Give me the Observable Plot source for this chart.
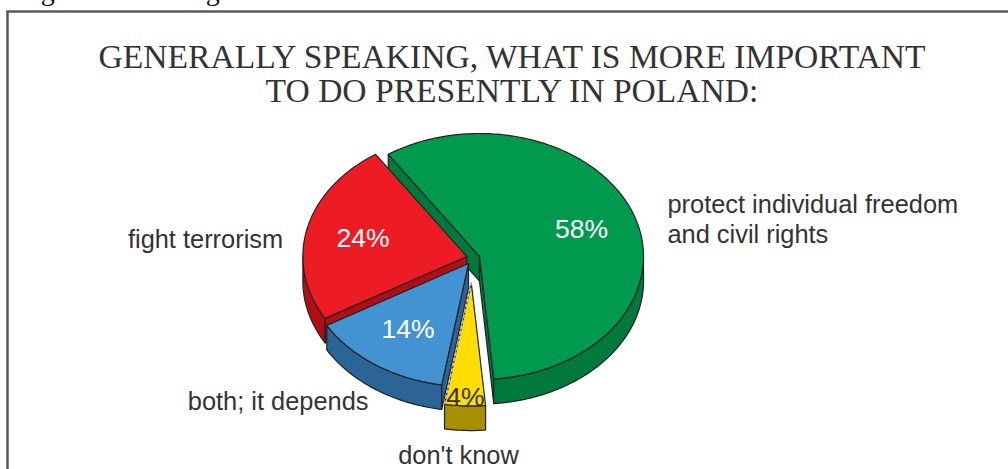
<!DOCTYPE html>
<html>
<head>
<meta charset="utf-8">
<script src="https://cdn.jsdelivr.net/npm/d3@7"></script>
<script src="https://cdn.jsdelivr.net/npm/@observablehq/plot@0.6"></script>
<style>html,body{margin:0;padding:0;background:#fff;overflow:hidden}svg{display:block}</style>
</head>
<body>
<script>
// Survey answers, in percent
const answers = ["protect individual freedom\nand civil rights", "don't know", "both; it depends", "fight terrorism"];
const shares = [58, 4, 14, 24];
const shareLabels = ["58%", "4%", "14%", "24%"];
const captionLine = "Figure 5. Civil rights";
const titleLines = ["GENERALLY SPEAKING, WHAT IS MORE IMPORTANT", "TO DO PRESENTLY IN POLAND:"];

// Slice styling and placement, in pie radii
const topColors = ["#009a4e", "#ffdd00", "#4393d3", "#ed1c24"];
const sideColors = ["#007a3c", "#a88f00", "#2b6496", "#b50d16"];
const valueColors = ["#fff", "#333", "#fff", "#fff"];
const offsetX = [0, -0.05, -0.067, -0.077];
const offsetY = [0, 0.215, 0.057, 0];
const valueRadius = [0.66, 0.93, 0.65, 0.65];
const answerAngle = [74.9, 183.2, 208.7, 277.5];
const answerRadius = [1.187, 1.4, 1.27, 1.13];
const answerAnchor = ["start", "middle", "end", "end"];
const startAngle = -33.8;
const depth = 0.2;

const W = 1008, H = 469;
const cx = 479, cy = 256, rx = 164, ry = 123;
const rad = (a) => a * Math.PI / 180;
const polar = (a, r) => [r * Math.sin(rad(a)), -r * Math.cos(rad(a))];

// Angular extent of each slice, clockwise from twelve o'clock
let running = startAngle;
const slices = shares.map((s, i) => {
  const a0 = running;
  const a1 = running + s * 3.6;
  running = a1;
  return {a0, a1, ox: offsetX[i], oy: offsetY[i], top: topColors[i], side: sideColors[i]};
});

const toPoint = ([x, y], s, drop = 0) => ({x: x + s.ox, y: y + s.oy + drop});
const arcPoints = (s, a0, a1, drop = 0) => d3.range(a0, a1, 1).concat(a1).map((a) => toPoint(polar(a, 1), s, drop));
const close = (pts) => pts.concat(pts[0]);

const topFace = (s) => close([toPoint([0, 0], s), ...arcPoints(s, s.a0, s.a1)]);
const cutFace = (s, a) => close([
  toPoint([0, 0], s), toPoint(polar(a, 1), s),
  toPoint(polar(a, 1), s, depth), toPoint([0, 0], s, depth)
]);
const wallFace = (s) => {
  const a0 = Math.max(s.a0, 90), a1 = Math.min(s.a1, 270);
  return close([...arcPoints(s, a0, a1), ...arcPoints(s, a0, a1, depth).reverse()]);
};

const face = (pts, fill) => Plot.line(pts, {x: "x", y: "y", fill, stroke: "#222", strokeWidth: 1.2, strokeLinejoin: "round"});
const [green, yellow, blue, red] = slices;

// Faces are painted from the back of the pie to the front
const faces = [
  face(cutFace(green, green.a0), green.side),
  face(cutFace(green, green.a1), green.side),
  face(wallFace(green), green.side),
  face(topFace(green), green.top),
  face(wallFace(red), red.side),
  face(cutFace(red, red.a0), red.side),
  face(topFace(red), red.top),
  face(wallFace(blue), blue.side),
  face(cutFace(blue, blue.a0), blue.side),
  face(topFace(blue), blue.top),
  face(wallFace(yellow), yellow.side),
  face(topFace(yellow), yellow.top)
];

// Broken highlight along the edge where the two front slices meet
const seam = Plot.line([toPoint([0, 0], yellow), toPoint(polar(yellow.a1, 1), yellow)], {
  x: "x", y: "y", stroke: "#ccc", strokeWidth: 1.4, strokeDasharray: "2.5,3"
});

const valueRows = slices.map((s, i) => {
  const [x, y] = polar((s.a0 + s.a1) / 2, valueRadius[i]);
  return {x: x + s.ox, y: y + s.oy, text: shareLabels[i], fill: valueColors[i]};
});
const answerRows = slices.map((s, i) => {
  const [x, y] = polar(answerAngle[i], answerRadius[i]);
  return {x: x + s.ox, y: y + s.oy, text: answers[i], anchor: answerAnchor[i]};
});
const sans = "Liberation Sans, Arial, sans-serif";
const serif = "Liberation Serif, Times New Roman, serif";

const chart = Plot.plot({
  width: W, height: H,
  margin: 0,
  x: {domain: [-cx / rx, (W - cx) / rx], range: [0, W], axis: null},
  y: {domain: [-cy / ry, (H - cy) / ry], range: [0, H], axis: null},
  marks: [
    Plot.frame({stroke: "#555", strokeWidth: 2.4, insetLeft: 7, insetTop: 11, insetRight: -6, insetBottom: -6}),
    Plot.text([captionLine], {
      x: () => (17 - cx) / rx,
      y: () => (-1 - cy) / ry,
      text: (d) => d,
      fontFamily: serif, fontSize: 28, fill: "#111", textAnchor: "start", lineAnchor: "bottom"
    }),
    Plot.text(titleLines, {
      x: () => (511.5 - cx) / rx,
      y: (d, i) => (57 + i * 34 - cy) / ry,
      text: (d) => d,
      fontFamily: serif,
      fontSize: 33.6, fill: "#333", textAnchor: "middle"
    }),
    ...faces,
    seam,
    Plot.text(valueRows, {x: "x", y: "y", text: "text", fill: "fill", fontFamily: sans, fontSize: 26.5}),
    ...["start", "middle", "end"].map((anchor) =>
      Plot.text(answerRows.filter((d) => d.anchor === anchor), {
        x: "x", y: "y", text: "text", textAnchor: anchor,
        fontFamily: sans, fontSize: 25.4, fill: "#333", lineHeight: 1.18
      }))
  ]
});
document.body.append(chart);
</script>
</body>
</html>
